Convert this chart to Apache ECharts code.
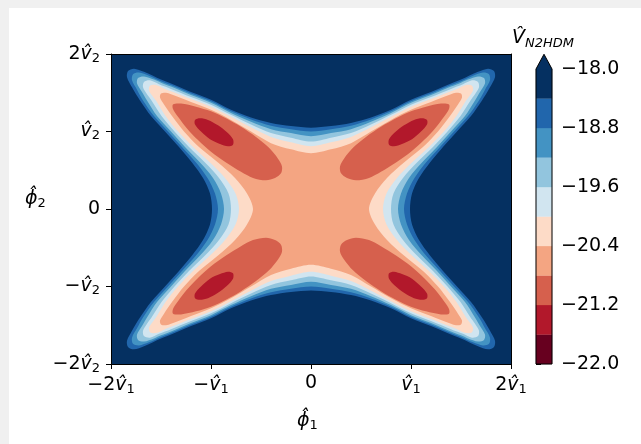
<!DOCTYPE html>
<html><head><meta charset="utf-8">
<script src="https://cdn.jsdelivr.net/npm/echarts@6/dist/echarts.min.js"></script>
<style>html,body{margin:0;padding:0;background:#fff}#c{width:641px;height:444px}</style>
</head><body><div id="c"></div>
<script>
// ---- colour levels (colorbar) ----
const levels = [-22.0,-21.6,-21.2,-20.8,-20.4,-20.0,-19.6,-19.2,-18.8,-18.4,-18.0];
const bandColors = ['#67001f','#b2182b','#d6604d','#f4a582','#fddbc7','#d1e5f0','#92c5de','#4393c3','#2166ac','#053061'];
const overColor = '#053061';

// ---- axes ----
const xTickValues = [-2,-1,0,1,2];
const xTickLabels = ['\u22122v\u0302\u2081','\u2212v\u0302\u2081','0','v\u0302\u2081','2v\u0302\u2081'];
const yTickLabels = ['\u22122v\u0302\u2082','\u2212v\u0302\u2082','0','v\u0302\u2082','2v\u0302\u2082'];

// ---- contour lines (first quadrant, data units) ----
const cLevels = [-18.4,-18.8,-19.2,-19.6,-20.0,-20.4];
const c_18_4 = [[0.99,0],[1.01,0.2],[1.08,0.4],[1.19,0.6],[1.32,0.8],[1.46,1.0],[1.60,1.2],[1.71,1.4],[1.79,1.57],[1.84,1.70],[1.83,1.78],[1.77,1.81],[1.67,1.77],[1.5,1.67],[1.4,1.62],[1.2,1.51],[1.0,1.41],[0.8,1.28],[0.6,1.18],[0.4,1.11],[0.2,1.07],[0,1.05]];
const c_18_8 = [[0.93,0],[0.96,0.2],[1.035,0.4],[1.15,0.6],[1.29,0.8],[1.43,1.0],[1.57,1.2],[1.68,1.4],[1.74,1.54],[1.79,1.66],[1.78,1.74],[1.72,1.76],[1.62,1.72],[1.5,1.65],[1.4,1.60],[1.2,1.49],[1.0,1.39],[0.8,1.26],[0.6,1.155],[0.4,1.075],[0.2,1.03],[0,1.0]];
const c_19_2 = [[0.87,0],[0.90,0.2],[0.98,0.4],[1.11,0.6],[1.26,0.8],[1.40,1.0],[1.54,1.2],[1.64,1.4],[1.69,1.51],[1.74,1.62],[1.73,1.69],[1.67,1.71],[1.57,1.67],[1.5,1.63],[1.4,1.58],[1.2,1.47],[1.0,1.37],[0.8,1.24],[0.6,1.125],[0.4,1.03],[0.2,0.98],[0,0.94]];
const c_19_6 = [[0.80,0],[0.825,0.2],[0.92,0.4],[1.06,0.6],[1.22,0.8],[1.365,1.0],[1.495,1.2],[1.595,1.4],[1.64,1.48],[1.68,1.57],[1.67,1.64],[1.61,1.66],[1.52,1.61],[1.4,1.55],[1.2,1.445],[1.0,1.345],[0.8,1.215],[0.6,1.09],[0.4,0.98],[0.2,0.92],[0,0.87]];
const c_20_0 = [[0.72,0],[0.755,0.2],[0.86,0.4],[1.01,0.6],[1.18,0.8],[1.33,1.0],[1.455,1.2],[1.55,1.4],[1.58,1.45],[1.62,1.53],[1.61,1.59],[1.55,1.60],[1.46,1.55],[1.4,1.52],[1.2,1.42],[1.0,1.32],[0.8,1.19],[0.6,1.055],[0.4,0.93],[0.2,0.86],[0,0.81]];
const c_20_4 = [[0.58,0],[0.64,0.2],[0.76,0.4],[0.93,0.6],[1.12,0.8],[1.27,1.0],[1.39,1.2],[1.47,1.35],[1.51,1.44],[1.50,1.49],[1.45,1.50],[1.4,1.48],[1.2,1.38],[1.0,1.28],[0.8,1.15],[0.6,1.00],[0.4,0.85],[0.2,0.77],[0,0.72]];
// closed lobes (first quadrant)
const lobeLevels = [-20.8,-21.2];
const lobe_20_8 = [[1.38,1.35],[1.30,1.36],[1.15,1.32],[1.0,1.26],[0.85,1.17],[0.70,1.06],[0.55,0.93],[0.42,0.79],[0.33,0.65],[0.29,0.55],[0.30,0.46],[0.36,0.40],[0.45,0.37],[0.58,0.40],[0.70,0.48],[0.85,0.60],[1.0,0.74],[1.13,0.89],[1.24,1.04],[1.33,1.19],[1.38,1.29]];
const lobe_21_2 = [[1.16,1.15],[1.16,1.09],[1.10,1.00],[1.01,0.90],[0.91,0.84],[0.83,0.81],[0.78,0.83],[0.78,0.90],[0.84,0.99],[0.93,1.08],[1.03,1.15],[1.11,1.17]];

const ringData = [c_18_4,c_18_8,c_19_2,c_19_6,c_20_0,c_20_4];
const lobeData = [lobe_20_8,lobe_21_2];

function mirrorRing(q){
  const p=[];
  q.forEach(v=>p.push([v[0],v[1]]));
  for(let i=q.length-2;i>=0;i--) p.push([-q[i][0],q[i][1]]);
  for(let i=1;i<q.length;i++) p.push([-q[i][0],-q[i][1]]);
  for(let i=q.length-2;i>0;i--) p.push([q[i][0],-q[i][1]]);
  return p;
}
function bandColorBelow(v){ return bandColors[levels.indexOf(v)-1]; }

const shapes=[];
shapes.push({pts:[[xTickValues[0],xTickValues[0]],[xTickValues[4],xTickValues[0]],[xTickValues[4],xTickValues[4]],[xTickValues[0],xTickValues[4]]],color:bandColors[9],smooth:0});
ringData.forEach((q,i)=>shapes.push({pts:mirrorRing(q),color:bandColorBelow(cLevels[i]),smooth:0.3}));
lobeData.forEach((l,i)=>{
  [[1,1],[-1,1],[-1,-1],[1,-1]].forEach(s=>{
    shapes.push({pts:l.map(v=>[s[0]*v[0],s[1]*v[1]]),color:bandColorBelow(lobeLevels[i]),smooth:0.3});
  });
});

const FONT='DejaVu Sans';
function richLabel(t){
  return t.replace(/v\u0302/g,'{i|v\u0302}').replace(/\u2081/g,'{s|1}').replace(/\u2082/g,'{s|2}');
}
const SUBPAD=[9,0,0,0];
const labelRich={
  i:{fontStyle:'italic',fontFamily:FONT,fontSize:19,color:'#000'},
  s:{fontFamily:FONT,fontSize:13,color:'#000',padding:SUBPAD}
};

const chart=echarts.init(document.getElementById('c'));
const axisCommon={type:'value',min:xTickValues[0],max:xTickValues[4],interval:1,splitLine:{show:false},z:10};
chart.setOption({
  animation:false,
  backgroundColor:'#fff',
  grid:[{left:111,top:54,width:400,height:310},{left:536,top:69,width:16,height:295}],
  xAxis:[
    Object.assign({},axisCommon,{gridIndex:0,position:'bottom',
      axisLine:{show:true,onZero:false,lineStyle:{color:'#000',width:1}},
      axisTick:{show:true,length:5,lineStyle:{color:'#000',width:1}},
      axisLabel:{margin:10,fontFamily:FONT,fontSize:19,color:'#000',rich:labelRich,
        formatter:v=>richLabel(xTickLabels[xTickValues.indexOf(Math.round(v))])}}),
    Object.assign({},axisCommon,{gridIndex:0,position:'top',
      axisLine:{show:true,onZero:false,lineStyle:{color:'#000',width:1}},axisTick:{show:false},axisLabel:{show:false}}),
    {type:'value',gridIndex:1,min:0,max:1,show:false}
  ],
  yAxis:[
    Object.assign({},axisCommon,{gridIndex:0,position:'left',
      axisLine:{show:true,onZero:false,lineStyle:{color:'#000',width:1}},
      axisTick:{show:true,length:5,lineStyle:{color:'#000',width:1}},
      axisLabel:{margin:11,fontFamily:FONT,fontSize:19,color:'#000',rich:labelRich,
        formatter:v=>richLabel(yTickLabels[xTickValues.indexOf(Math.round(v))])}}),
    Object.assign({},axisCommon,{gridIndex:0,position:'right',
      axisLine:{show:true,onZero:false,lineStyle:{color:'#000',width:1}},axisTick:{show:false},axisLabel:{show:false}}),
    {type:'value',gridIndex:1,position:'right',min:0,max:levels.length-1,interval:2,splitLine:{show:false},
      axisLine:{show:false},
      axisTick:{show:true,length:5,lineStyle:{color:'#000',width:1}},
      axisLabel:{margin:9,fontFamily:FONT,fontSize:19,color:'#000',
        formatter:v=>levels[Math.round(v)].toFixed(1).replace('-','\u2212')}}
  ],
  graphic:[
    {type:'rect',left:0,top:0,shape:{width:641,height:8},style:{fill:'#f0f0f0'},z:-10},
    {type:'rect',left:0,top:0,shape:{width:9,height:444},style:{fill:'#f0f0f0'},z:-10},
    {type:'text',left:512,top:29,style:{text:'{v|V\u0302}{s|N2HDM}',rich:{
      v:{fontFamily:FONT,fontStyle:'italic',fontSize:19,color:'#000'},
      s:{fontFamily:FONT,fontStyle:'italic',fontSize:13,color:'#000',padding:[10,0,0,0]}}}},
    {type:'text',left:297,top:412,style:{text:'{p|\u03d5\u0302}{s|1}',rich:{
      p:{fontFamily:FONT,fontStyle:'italic',fontSize:19,color:'#000'},
      s:{fontFamily:FONT,fontSize:13,color:'#000',padding:SUBPAD}}}},
    {type:'text',left:25,top:190,style:{text:'{p|\u03d5\u0302}{s|2}',rich:{
      p:{fontFamily:FONT,fontStyle:'italic',fontSize:19,color:'#000'},
      s:{fontFamily:FONT,fontSize:13,color:'#000',padding:SUBPAD}}}}
  ],
  series:[
    {type:'custom',xAxisIndex:0,yAxisIndex:0,clip:true,
      data:shapes.map(()=>[0,0]),
      renderItem:(params,api)=>{
        const s=shapes[params.dataIndex];
        return {type:'polygon',shape:{points:s.pts.map(p=>api.coord(p)),smooth:s.smooth},style:{fill:s.color}};
      }},
    {type:'custom',xAxisIndex:2,yAxisIndex:2,clip:false,
      data:bandColors.concat(['over','outline']).map((v,i)=>[0,i]),
      renderItem:(params,api)=>{
        const i=params.dataIndex, nb=bandColors.length;
        if(i<nb){
          const a=api.coord([0,i+1]), b=api.coord([1,i]);
          return {type:'rect',shape:{x:a[0],y:a[1],width:b[0]-a[0],height:b[1]-a[1]},style:{fill:bandColors[i],stroke:bandColors[i],lineWidth:0.3}};
        }
        const bl=api.coord([0,0]), tl=api.coord([0,nb]), tr=api.coord([1,nb]), br=api.coord([1,0]);
        const ext=0.05*(bl[1]-tl[1]);
        const apex=[(tl[0]+tr[0])/2, tl[1]-ext];
        if(i===nb) return {type:'polygon',shape:{points:[tl,apex,tr]},style:{fill:overColor}};
        return {type:'polygon',shape:{points:[bl,tl,apex,tr,br]},style:{fill:'none',stroke:'#000',lineWidth:1},z2:10};
      }}
  ]
});
</script></body></html>
